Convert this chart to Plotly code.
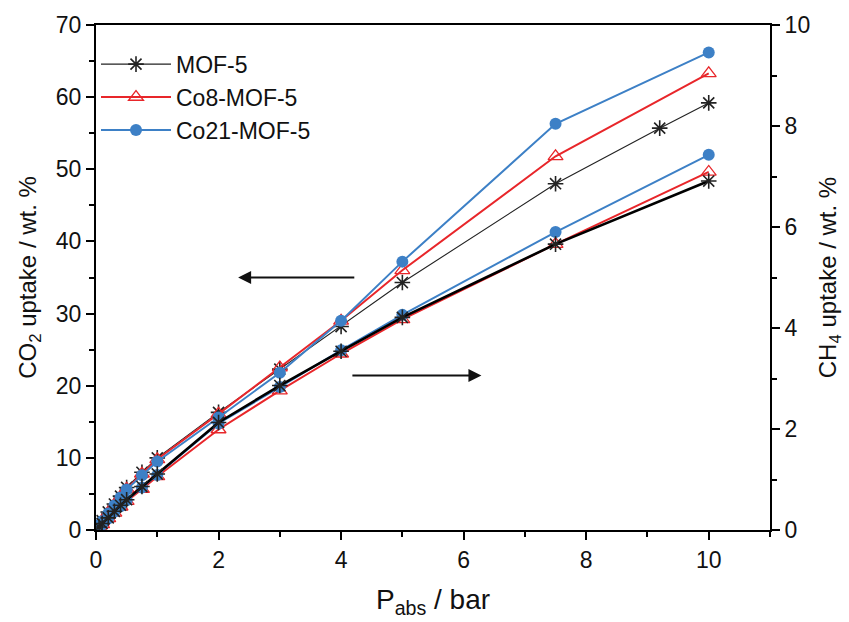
import plotly.graph_objects as go

# ---------------- data ----------------
p_mof5_co2 = [0.05, 0.1, 0.2, 0.3, 0.4, 0.5, 0.75, 1, 2, 3, 4, 5, 7.5, 9.2, 10]
co2_mof5 = [0.6, 1.3, 2.5, 3.6, 4.7, 5.9, 8.0, 10.0, 16.3, 22.3, 28.2, 34.3, 48.0, 55.7, 59.2]

p_std = [0.05, 0.1, 0.2, 0.3, 0.4, 0.5, 0.75, 1, 2, 3, 4, 5, 7.5, 10]
co2_co8 = [0.6, 1.2, 2.4, 3.5, 4.6, 5.7, 7.8, 9.8, 16.1, 22.5, 29.0, 36.0, 51.8, 63.3]
co2_co21 = [0.6, 1.2, 2.3, 3.4, 4.5, 5.6, 7.6, 9.5, 15.6, 21.8, 29.0, 37.2, 56.3, 66.2]

ch4_mof5 = [0.06, 0.13, 0.24, 0.37, 0.49, 0.60, 0.86, 1.11, 2.13, 2.86, 3.54, 4.21, 5.66, 6.91]
ch4_co8 = [0.06, 0.11, 0.23, 0.34, 0.46, 0.57, 0.81, 1.06, 1.99, 2.76, 3.49, 4.17, 5.66, 7.09]
ch4_co21 = [0.06, 0.11, 0.23, 0.36, 0.47, 0.59, 0.84, 1.09, 2.11, 2.83, 3.56, 4.26, 5.90, 7.43]

names = ["MOF-5", "Co8-MOF-5", "Co21-MOF-5"]
x_ticks = [0, 2, 4, 6, 8, 10]
y1_ticks = [0, 10, 20, 30, 40, 50, 60, 70]
y2_ticks = [0, 2, 4, 6, 8, 10]

# ---------------- styles ----------------
BLACK = "#222222"
RED = "#e8262a"
BLUE = "#3d80c6"
FONT = "Liberation Sans, Arial, sans-serif"

ast = dict(symbol="asterisk-open", size=13, line=dict(color=BLACK, width=1.6), color=BLACK)
tri = dict(symbol="triangle-up-open", size=13, line=dict(color=RED, width=1.3), color=RED)
circ = dict(symbol="circle", size=12, color=BLUE, line=dict(color=BLUE, width=0))

fig = go.Figure()

# CH4 (right axis)
fig.add_trace(go.Scatter(x=p_std, y=ch4_co8, yaxis="y2", mode="lines+markers", name=names[1],
                         line=dict(color=RED, width=2), marker=tri, showlegend=False, legendgroup="b"))
fig.add_trace(go.Scatter(x=p_std, y=ch4_co21, yaxis="y2", mode="lines+markers", name=names[2],
                         line=dict(color=BLUE, width=2), marker=circ, showlegend=False, legendgroup="c"))
fig.add_trace(go.Scatter(x=p_std, y=ch4_mof5, yaxis="y2", mode="lines+markers", name=names[0],
                         line=dict(color="#000000", width=2.6), marker=ast, showlegend=False, legendgroup="a"))

# CO2 (left axis)
fig.add_trace(go.Scatter(x=p_mof5_co2, y=co2_mof5, mode="lines+markers", name=names[0],
                         line=dict(color=BLACK, width=1.1), marker=ast, legendgroup="a", legendrank=1))
fig.add_trace(go.Scatter(x=p_std, y=co2_co8, mode="lines+markers", name=names[1],
                         line=dict(color=RED, width=2), marker=tri, legendgroup="b", legendrank=2))
fig.add_trace(go.Scatter(x=p_std, y=co2_co21, mode="lines+markers", name=names[2],
                         line=dict(color=BLUE, width=2), marker=circ, legendgroup="c", legendrank=3))

axis_common = dict(showline=True, linecolor="black", linewidth=2, ticks="outside",
                   tickcolor="black", tickwidth=2, ticklen=8, showgrid=False, zeroline=False,
                   tickfont=dict(family=FONT, size=23, color="#111111"))

fig.update_layout(
    width=849, height=622,
    margin=dict(l=96, r=64, t=22, b=90),
    paper_bgcolor="white", plot_bgcolor="white",
    font=dict(family=FONT, color="#111111"),
    xaxis=dict(range=[0, 11], tickvals=x_ticks, mirror=True,
               minor=dict(dtick=1, ticks="outside", ticklen=5, tickwidth=2, tickcolor="black"),
               title=dict(text="P<sub>abs</sub> / bar", font=dict(family=FONT, size=28), standoff=18),
               **axis_common),
    yaxis=dict(range=[0, 70], tickvals=y1_ticks,
               minor=dict(dtick=5, ticks="outside", ticklen=5, tickwidth=2, tickcolor="black"),
               title=dict(text="CO<sub>2</sub> uptake / wt. %", font=dict(family=FONT, size=24), standoff=12),
               **axis_common),
    yaxis2=dict(range=[0, 10], tickvals=y2_ticks, overlaying="y", side="right",
                minor=dict(dtick=1, ticks="outside", ticklen=5, tickwidth=2, tickcolor="black"),
                title=dict(text="CH<sub>4</sub> uptake / wt. %", font=dict(family=FONT, size=24), standoff=10),
                **axis_common),
    legend=dict(x=0.0, y=0.965, xanchor="left", yanchor="top", bgcolor="rgba(0,0,0,0)",
                font=dict(family=FONT, size=23, color="#111111"), itemwidth=70,
                tracegroupgap=0, traceorder="normal"),
    showlegend=True,
)

# arrows indicating the axis for each group of curves
fig.add_annotation(x=2.32, y=35.0, ax=4.24, ay=35.0, xref="x", yref="y", axref="x", ayref="y",
                   showarrow=True, arrowhead=2, arrowsize=1.3, arrowwidth=2, arrowcolor="#111111", text="")
fig.add_annotation(x=6.29, y=21.4, ax=4.16, ay=21.4, xref="x", yref="y", axref="x", ayref="y",
                   showarrow=True, arrowhead=2, arrowsize=1.3, arrowwidth=2, arrowcolor="#111111", text="")

fig.write_html("out.html")
